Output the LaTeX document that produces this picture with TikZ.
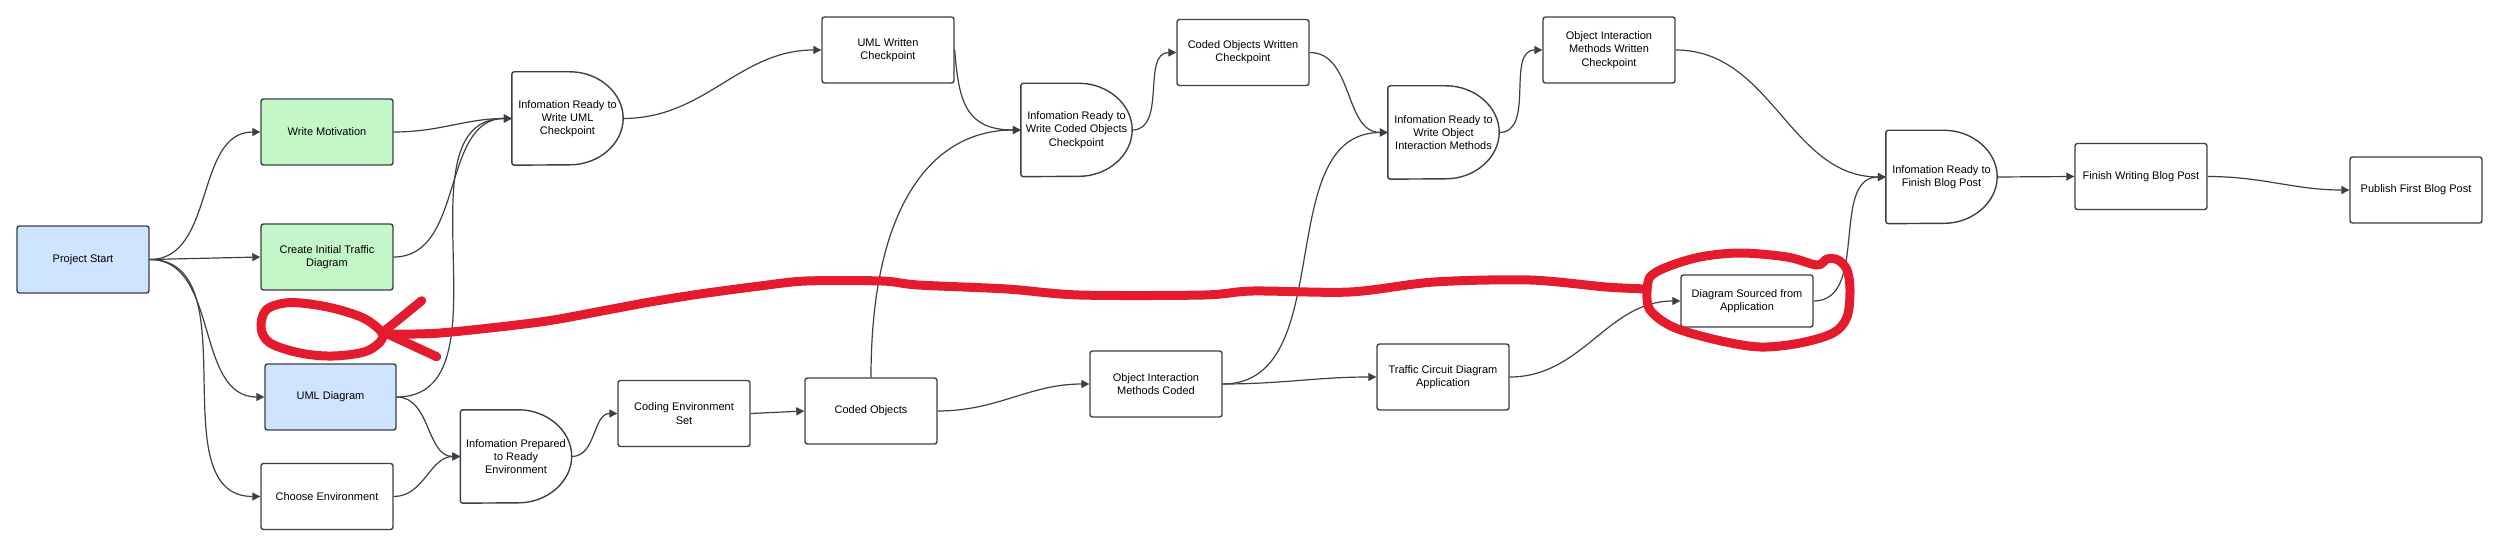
\documentclass[tikz,border=0pt]{standalone}
\usepackage{fontspec}
\setmainfont{Liberation Sans}
\usetikzlibrary{arrows.meta}
\definecolor{ln}{HTML}{3A4048}
\definecolor{gfill}{HTML}{C3F7C8}
\definecolor{bfill}{HTML}{CFE4FF}
\definecolor{redc}{RGB}{227,27,45}
\begin{document}
\begin{tikzpicture}[x=1pt,y=-1pt,
  every node/.style={font=\fontsize{11}{13.3}\selectfont, align=center, text=black},
  plainbox/.style={draw=ln, line width=1.4pt, rounded corners=2.5pt, fill=white, minimum width=132pt, minimum height=66pt, inner sep=2pt},
  greenbox/.style={plainbox, fill=gfill},
  bluebox/.style={plainbox, fill=bfill},
  delaybox/.style={minimum width=111pt, minimum height=93pt, inner sep=2pt},
  delayline/.style={draw=ln, line width=1.4pt, rounded corners=2.5pt},
  conn/.style={draw=ln, line width=1.2pt, -{Triangle[length=8pt,width=8pt]}},
  redmark/.style={draw=redc, line width=9pt, line cap=round, line join=round}]
\useasboundingbox (0,0) rectangle (2500,548);

% nodes
\node[bluebox, minimum height=67pt] (ps) at (83,259.5) {Project Start};
\node[greenbox] (wm) at (327,132) {Write Motivation};
\node[greenbox] (cit) at (327,257) {Create Initial Traffic\\Diagram};
\node[bluebox, minimum width=131pt] (uml) at (330.5,397) {UML Diagram};
\node[plainbox] (ce) at (327,496.5) {Choose Environment};
\node[delaybox] (iruml) at (567.5,118.5) {Infomation Ready to\\Write UML\\Checkpoint};
\node[delaybox] (ip) at (516,456.5) {Infomation Prepared\\to Ready\\Environment};
\node[plainbox] (ces) at (684,413.5) {Coding Environment\\Set};
\node[plainbox] (co) at (871,411) {Coded Objects};
\node[plainbox] (oimc) at (1156,384) {Object Interaction\\Methods Coded};
\node[plainbox] (tcda) at (1443,377) {Traffic Circuit Diagram\\Application};
\node[plainbox, minimum height=52pt] (dsa) at (1747,301) {Diagram Sourced from\\Application};
\node[plainbox] (uwc) at (888,50) {UML Written\\Checkpoint};
\node[delaybox] (ircoded) at (1076.5,130) {Infomation Ready to\\Write Coded Objects\\Checkpoint};
\node[plainbox] (cowc) at (1243,52.5) {Coded Objects Written\\Checkpoint};
\node[delaybox] (iroi) at (1443.5,132.5) {Infomation Ready to\\Write Object\\Interaction Methods};
\node[plainbox] (oimwc) at (1609,50) {Object Interaction\\Methods Written\\Checkpoint};
\node[delaybox] (irfin) at (1941.5,177) {Infomation Ready to\\Finish Blog Post};
\node[plainbox] (fwbp) at (2141,176.5) {Finish Writing Blog Post};
\node[plainbox] (pfbp) at (2416,190) {Publish First Blog Post};

% delay outlines
\foreach \n in {iruml,ip,ircoded,iroi,irfin}{
  \draw[delayline] (\n.north west) -- ([xshift=-55.5pt]\n.north east)
    arc[start angle=90, end angle=-90, x radius=55.5pt, y radius=46.5pt]
    -- (\n.south west) -- cycle;
}

% connectors
\draw[conn] (ps.east) to[out=0,in=180] (wm.west);
\draw[conn] (ps.east) -- (cit.west);
\draw[conn] (ps.east) to[out=0,in=180] (uml.west);
\draw[conn] (ps.east) to[out=0,in=180] (ce.west);
\draw[conn] (wm.east) to[out=0,in=180] (iruml.west);
\draw[conn] (cit.east) to[out=0,in=180] (iruml.west);
\draw[conn] (uml.east) to[out=0,in=180] (iruml.west);
\draw[conn] (uml.east) to[out=0,in=180] (ip.west);
\draw[conn] (ce.east) to[out=0,in=180] (ip.west);
\draw[conn] (ip.east) to[out=0,in=180] (ces.west);
\draw[conn] (ces.east) -- (co.west);
\draw[conn] (co.east) to[out=0,in=180] (oimc.west);
\draw[conn] (co.north) .. controls +(0,-170) and +(-90,0) .. (ircoded.west);
\draw[conn] (iruml.east) to[out=0,in=180] (uwc.west);
\draw[conn] (uwc.east) .. controls +(4,50) and +(-56,0) .. (ircoded.west);
\draw[conn] (ircoded.east) to[out=0,in=180] (cowc.west);
\draw[conn] (cowc.east) to[out=0,in=180] (iroi.west);
\draw[conn] (oimc.east) to[out=0,in=180] (iroi.west);
\draw[conn] (oimc.east) to[out=0,in=180] (tcda.west);
\draw[conn] (iroi.east) to[out=0,in=180] (oimwc.west);
\draw[conn] (tcda.east) to[out=0,in=180] (dsa.west);
\draw[conn] (dsa.east) to[out=0,in=180] (irfin.west);
\draw[conn] (oimwc.east) to[out=0,in=180] (irfin.west);
\draw[conn] (irfin.east) -- (fwbp.west);
\draw[conn] (fwbp.east) to[out=0,in=180] (pfbp.west);

% red hand-drawn annotation
\draw[redmark] (421.7,300.7) -- (383.3,332) -- (436.7,356.7);
\draw[redmark] plot[smooth cycle, tension=0.55] coordinates {(383,336) (367,351) (333,356) (300,353) (270,343) (261,328) (266,310) (285,303) (310,304) (340,310) (367,320)};
\draw[redmark] plot[smooth, tension=0.5] coordinates {(384,334) (440,333) (540,322) (607,310) (650,302) (700,294) (760,286) (806,281) (882,281) (918,285) (1007,289) (1079,295) (1204,295) (1253,291) (1350,292) (1434,282) (1530,280) (1606,287) (1647,289)};
\draw[redmark] plot[smooth, tension=0.55] coordinates {(1647,292) (1650,277) (1667,267) (1700,257) (1740,253) (1787,257) (1817,265) (1827,259) (1838,260) (1847,270) (1850,290) (1847,317) (1833,333) (1800,343) (1760,347) (1717,340) (1673,327) (1650,310) (1647,292)};
\end{tikzpicture}
\end{document}
